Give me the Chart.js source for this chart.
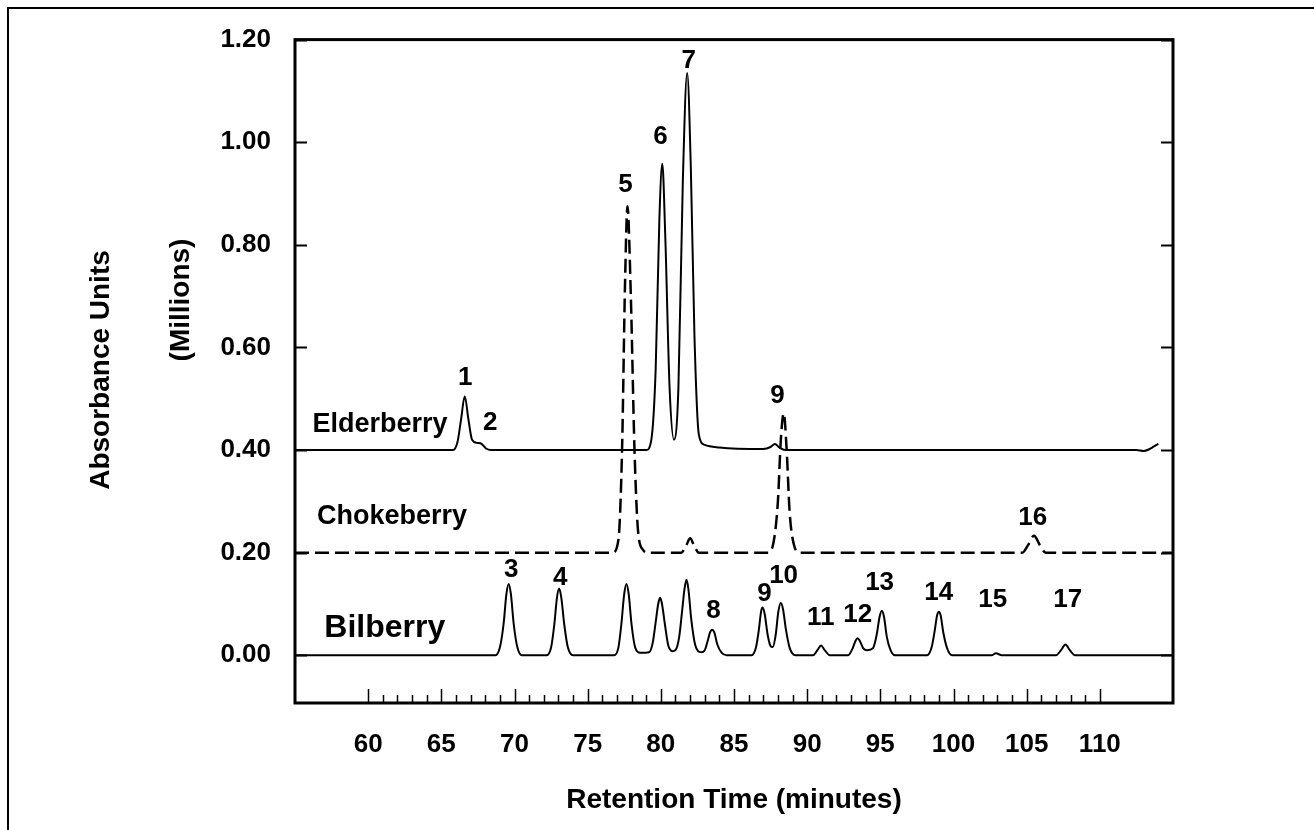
<!DOCTYPE html>
<html>
<head>
<meta charset="utf-8">
<script src="https://cdn.jsdelivr.net/npm/chart.js@4.4.1/dist/chart.umd.min.js"></script>
<style>
  html, body { margin: 0; padding: 0; background: #fff; }
</style>
</head>
<body>
<canvas id="myChart" width="1314" height="830"></canvas>
<script>
// traces: retention time (min) / absorbance (millions)
const elderTime = [55, 65.8, 66.1, 66.35, 66.6, 66.85, 67.1, 67.45, 67.75, 68.05, 68.4,
  79.0, 79.35, 79.65, 79.9, 80.1, 80.3, 80.6, 80.9, 81.2, 81.5, 81.8, 82.05, 82.3, 82.6, 83.0, 84.0,
  87.0, 87.5, 87.8, 88.1, 88.5, 112.5, 113.0, 113.4, 113.7, 114.0];
const elderAbs = [0.400, 0.400, 0.415, 0.460, 0.505, 0.460, 0.420, 0.414, 0.412, 0.403, 0.400,
  0.400, 0.420, 0.560, 0.850, 0.958, 0.820, 0.520, 0.420, 0.520, 0.920, 1.135, 0.950, 0.620, 0.430, 0.410, 0.405,
  0.402, 0.406, 0.412, 0.405, 0.400, 0.400, 0.398, 0.402, 0.407, 0.412];

const chokeTime = [55, 76.7, 77.1, 77.35, 77.55, 77.72, 77.95, 78.2, 78.45, 78.8, 79.1,
  81.4, 81.75, 82.0, 82.3, 82.6, 87.3, 87.7, 88.0, 88.2, 88.4, 88.6, 88.8, 89.1, 89.5,
  104.7, 105.1, 105.5, 105.9, 106.3, 115];
const chokeAbs = [0.200, 0.200, 0.225, 0.400, 0.720, 0.875, 0.700, 0.400, 0.240, 0.205, 0.200,
  0.200, 0.215, 0.228, 0.212, 0.200, 0.200, 0.220, 0.300, 0.420, 0.472, 0.400, 0.280, 0.215, 0.200,
  0.200, 0.215, 0.233, 0.215, 0.200, 0.200];

const bilTime = [55, 68.7, 69.0, 69.25, 69.45, 69.6, 69.75, 69.95, 70.2, 70.5,
  72.2, 72.5, 72.72, 72.9, 73.05, 73.2, 73.4, 73.65, 74.0,
  76.8, 77.1, 77.3, 77.5, 77.65, 77.8, 78.0, 78.25, 78.6,
  79.2, 79.45, 79.65, 79.82, 79.95, 80.08, 80.28, 80.5, 80.8,
  81.0, 81.25, 81.45, 81.62, 81.75, 81.88, 82.08, 82.35, 82.75,
  83.0, 83.2, 83.37, 83.5, 83.65, 83.85, 84.15, 84.5,
  86.2, 86.5, 86.7, 86.85, 86.95, 87.1, 87.3, 87.5, 87.65,
  87.85, 88.03, 88.2, 88.35, 88.55, 88.8, 89.2,
  90.4, 90.7, 90.95, 91.2, 91.55,
  92.8, 93.1, 93.3, 93.45, 93.6, 93.85, 94.1,
  94.5, 94.75, 94.95, 95.1, 95.25, 95.45, 95.7, 96.0,
  98.2, 98.5, 98.7, 98.88, 99.0, 99.12, 99.3, 99.55, 99.9,
  102.6, 102.9, 103.3,
  107.0, 107.35, 107.65, 107.95, 108.3, 115];
const bilAbs = [0, 0, 0.015, 0.060, 0.120, 0.139, 0.120, 0.060, 0.015, 0,
  0, 0.015, 0.060, 0.112, 0.130, 0.112, 0.060, 0.015, 0,
  0, 0.015, 0.060, 0.120, 0.139, 0.120, 0.060, 0.015, 0.005,
  0.006, 0.025, 0.065, 0.100, 0.112, 0.100, 0.060, 0.020, 0.008,
  0.010, 0.035, 0.085, 0.130, 0.147, 0.130, 0.070, 0.020, 0.006,
  0.010, 0.028, 0.045, 0.050, 0.045, 0.022, 0.005, 0,
  0, 0.015, 0.050, 0.085, 0.093, 0.080, 0.040, 0.018, 0.016,
  0.040, 0.085, 0.102, 0.090, 0.050, 0.015, 0,
  0, 0.010, 0.019, 0.010, 0,
  0, 0.013, 0.028, 0.033, 0.028, 0.013, 0.010,
  0.014, 0.040, 0.075, 0.087, 0.075, 0.035, 0.010, 0,
  0, 0.015, 0.045, 0.078, 0.085, 0.078, 0.045, 0.015, 0,
  0, 0.004, 0,
  0, 0.010, 0.021, 0.010, 0, 0];

// peak numbers and where they sit
const peakText = ['1', '2', '5', '6', '7', '9', '16', '3', '4', '8', '9', '10', '11', '12', '13', '14', '15', '17'];
const peakTime = [66.63, 68.34, 77.58, 79.97, 81.9, 87.97, 105.42, 69.78, 73.13, 83.6, 87.09, 88.39, 90.92, 93.45, 94.95, 98.99, 102.68, 107.81];
const peakAbs = [0.541, 0.454, 0.916, 1.011, 1.159, 0.506, 0.267, 0.166, 0.151, 0.087, 0.12, 0.155, 0.073, 0.079, 0.141, 0.122, 0.108, 0.108];

const seriesNames = ['Elderberry', 'Chokeberry', 'Bilberry'];
const nameTime = [56.2, 56.5, 57.0];
const nameAbs = [0.45, 0.27, 0.052];

const xTickValues = [60, 65, 70, 75, 80, 85, 90, 95, 100, 105, 110];
const yTickValues = [0, 0.2, 0.4, 0.6, 0.8, 1.0, 1.2];

const toPoints = (t, v) => t.map((x, i) => ({ x: x, y: v[i] }));
const FONT = '"Liberation Sans", Arial, sans-serif';

const decor = {
  id: 'decor',
  afterDraw(chart) {
    const { ctx, chartArea: a, scales: { x, y } } = chart;
    ctx.save();
    ctx.strokeStyle = '#000';
    ctx.fillStyle = '#000';

    // outer frame, only top and left edges show
    ctx.lineWidth = 2;
    ctx.beginPath();
    ctx.moveTo(8, chart.height);
    ctx.lineTo(8, 8);
    ctx.lineTo(chart.width, 8);
    ctx.stroke();

    // plot box
    ctx.lineWidth = 3;
    ctx.strokeRect(a.left, a.top, a.right - a.left, a.bottom - a.top);

    // inner y ticks both sides
    ctx.lineWidth = 2;
    ctx.beginPath();
    yTickValues.forEach(v => {
      const py = Math.round(y.getPixelForValue(v)) + 0.5;
      ctx.moveTo(a.left, py); ctx.lineTo(a.left + 12, py);
      ctx.moveTo(a.right - 12, py); ctx.lineTo(a.right, py);
    });
    ctx.stroke();

    // minute ticks along the bottom
    ctx.lineWidth = 1.5;
    ctx.beginPath();
    for (let m = xTickValues[0]; m <= xTickValues[xTickValues.length - 1]; m++) {
      const px = Math.round(x.getPixelForValue(m)) + 0.5;
      const len = m % 5 === 0 ? 14 : 8;
      ctx.moveTo(px, a.bottom); ctx.lineTo(px, a.bottom - len);
    }
    ctx.stroke();

    // peak numbers
    ctx.textAlign = 'center';
    ctx.textBaseline = 'middle';
    ctx.font = 'bold 26px ' + FONT;
    peakText.forEach((t, i) => {
      ctx.fillText(t, x.getPixelForValue(peakTime[i]), y.getPixelForValue(peakAbs[i]));
    });

    // trace names
    ctx.textAlign = 'left';
    seriesNames.forEach((n, i) => {
      ctx.font = 'bold ' + (i === 2 ? 32 : 27) + 'px ' + FONT;
      ctx.fillText(n, x.getPixelForValue(nameTime[i]), y.getPixelForValue(nameAbs[i]));
    });

    // axis titles
    ctx.font = 'bold 28px ' + FONT;
    ctx.textAlign = 'center';
    ctx.fillText('Retention Time (minutes)', (a.left + a.right) / 2, 800);

    ctx.save();
    ctx.translate(101, 370);
    ctx.rotate(-Math.PI / 2);
    ctx.fillText('Absorbance Units', 0, 0);
    ctx.restore();

    ctx.save();
    ctx.translate(181, 300);
    ctx.rotate(-Math.PI / 2);
    ctx.fillText('(Millions)', 0, 0);
    ctx.restore();

    ctx.restore();
  }
};

const config = {
  type: 'line',
  data: {
    datasets: [
      {
        label: 'Elderberry',
        data: toPoints(elderTime, elderAbs),
        borderColor: '#000',
        borderWidth: 2,
        pointRadius: 0,
        fill: false,
        cubicInterpolationMode: 'monotone'
      },
      {
        label: 'Chokeberry',
        data: toPoints(chokeTime, chokeAbs),
        borderColor: '#000',
        borderWidth: 2.5,
        borderDash: [14, 6],
        pointRadius: 0,
        fill: false,
        cubicInterpolationMode: 'monotone'
      },
      {
        label: 'Bilberry',
        data: toPoints(bilTime, bilAbs),
        borderColor: '#000',
        borderWidth: 2,
        pointRadius: 0,
        fill: false,
        cubicInterpolationMode: 'monotone'
      }
    ]
  },
  options: {
    responsive: false,
    animation: false,
    events: [],
    layout: { padding: { top: 33, right: 141, bottom: 0, left: 0 } },
    plugins: {
      legend: { display: false },
      title: { display: false },
      tooltip: { enabled: false }
    },
    scales: {
      x: {
        type: 'linear',
        min: 55,
        max: 115,
        grid: { display: false, drawTicks: false },
        border: { display: false },
        afterBuildTicks: s => { s.ticks = xTickValues.map(v => ({ value: v })); },
        afterFit: s => { s.height = 127; },
        ticks: {
          color: '#000',
          padding: 26,
          maxRotation: 0,
          autoSkip: false,
          font: { family: FONT, size: 26, weight: 'bold' }
        }
      },
      y: {
        type: 'linear',
        min: -0.093,
        max: 1.2,
        grid: { display: false, drawTicks: false },
        border: { display: false },
        afterBuildTicks: s => { s.ticks = yTickValues.map(v => ({ value: v })); },
        afterFit: s => { s.width = 295; },
        ticks: {
          color: '#000',
          padding: 24,
          autoSkip: false,
          font: { family: FONT, size: 26, weight: 'bold' },
          callback: v => v.toFixed(2)
        }
      }
    }
  },
  plugins: [decor]
};

const myChart = new Chart(document.getElementById('myChart'), config);
</script>
</body>
</html>
